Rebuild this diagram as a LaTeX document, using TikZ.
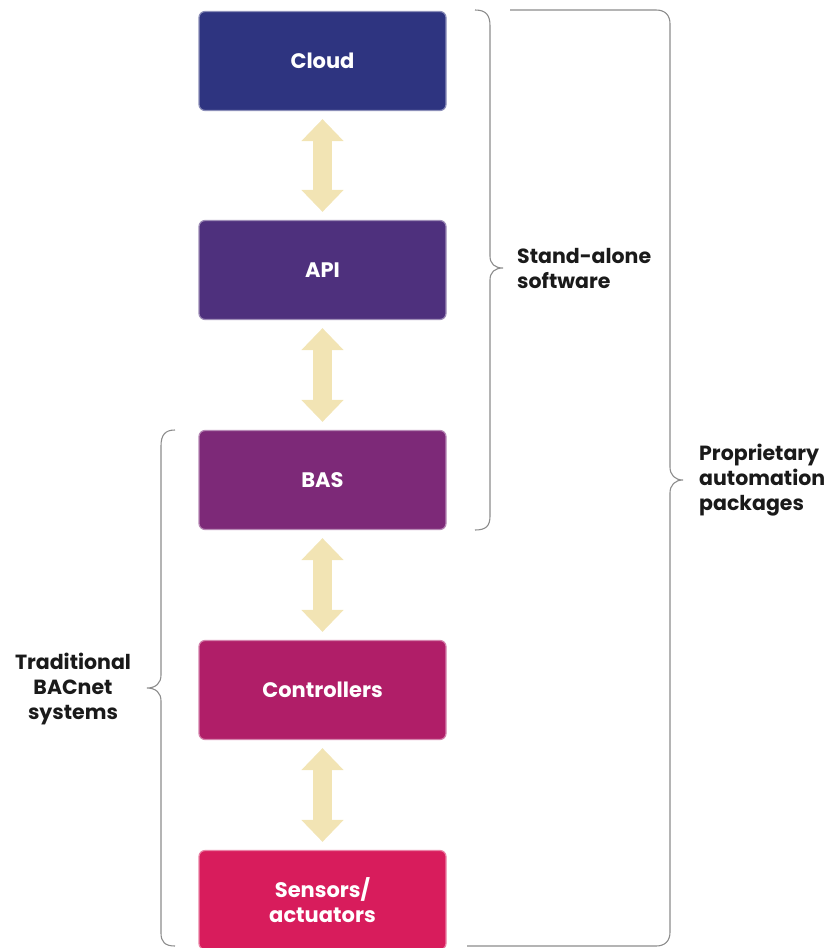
\documentclass[tikz,border=0pt]{standalone}
\usepackage{fontspec}
\setmainfont{Poppins}
\usetikzlibrary{arrows.meta}

\definecolor{cloudc}{RGB}{46,52,128}
\definecolor{apic}{RGB}{78,48,125}
\definecolor{basc}{RGB}{125,41,120}
\definecolor{ctrlc}{RGB}{176,30,104}
\definecolor{sensc}{RGB}{216,28,92}
\definecolor{linkc}{RGB}{242,228,180}
\definecolor{bracec}{RGB}{140,140,140}
\definecolor{labelc}{RGB}{26,26,26}

\tikzset{
  layer/.style={rounded corners=6pt, minimum width=247pt, minimum height=99pt,
    inner sep=0pt, fill=#1, draw=#1!55!white, line width=1.2pt,
    text=white, font=\fontsize{21}{25}\selectfont\bfseries, align=center},
  link/.style={draw=linkc, line width=19pt, line cap=butt,
    {Triangle[width=41pt,length=22pt]}-{Triangle[width=41pt,length=22pt]},
    shorten <=8pt, shorten >=8pt},
  bracket/.style={draw=bracec, line width=1.1pt},
  grouplabel/.style={text=labelc, font=\fontsize{20.5}{25}\selectfont\bfseries, inner sep=0pt}
}

\begin{document}
\begin{tikzpicture}[x=1pt,y=-1pt]
  \useasboundingbox (0,0) rectangle (827,948);

  % stack of layers
  \node[layer=cloudc] (cloud) at (322.5,61)  {Cloud};
  \node[layer=apic]   (api)   at (322.5,270) {API};
  \node[layer=basc]   (bas)   at (322.5,480) {BAS};
  \node[layer=ctrlc]  (ctrl)  at (322.5,690) {Controllers};
  \node[layer=sensc]  (sens)  at (322.5,900) {Sensors/\\actuators};

  % two-way links between neighbouring layers
  \draw[link] (cloud.south) -- (api.north);
  \draw[link] (api.south)   -- (bas.north);
  \draw[link] (bas.south)   -- (ctrl.north);
  \draw[link] (ctrl.south)  -- (sens.north);

  % brace: Cloud to BAS
  \draw[bracket] (475,10) .. controls (486,10) and (490,15) .. (490,26)
    -- (490,256) .. controls (490,264) and (495,268) .. (503,268)
    .. controls (495,268) and (490,272) .. (490,280)
    -- (490,516) .. controls (490,526) and (486,530) .. (475,530);

  % bracket: whole stack
  \draw[bracket] (510,10) -- (656,10) .. controls (665,10) and (670,15) .. (670,24)
    -- (670,467) .. controls (670,475) and (675,480) .. (683,480)
    .. controls (675,480) and (670,485) .. (670,493)
    -- (670,932) .. controls (670,941) and (665,946) .. (656,946) -- (467,946);

  % brace: BAS to Sensors
  \draw[bracket] (175,430) .. controls (165,430) and (161,435) .. (161,446)
    -- (161,675) .. controls (161,683) and (156,688) .. (147,688)
    .. controls (156,688) and (161,693) .. (161,701)
    -- (161,933) .. controls (161,942) and (165,946) .. (175,946);

  % group labels
  \node[grouplabel, anchor=west, align=left] (stand) at (517,268) {Stand-alone\\software};
  \node[grouplabel, anchor=west, align=left] (prop) at (699,480) {Proprietary\\automation\\packages};
  \node[grouplabel, align=center] (trad) at (73,689) {Traditional\\BACnet\\systems};
\end{tikzpicture}
\end{document}
